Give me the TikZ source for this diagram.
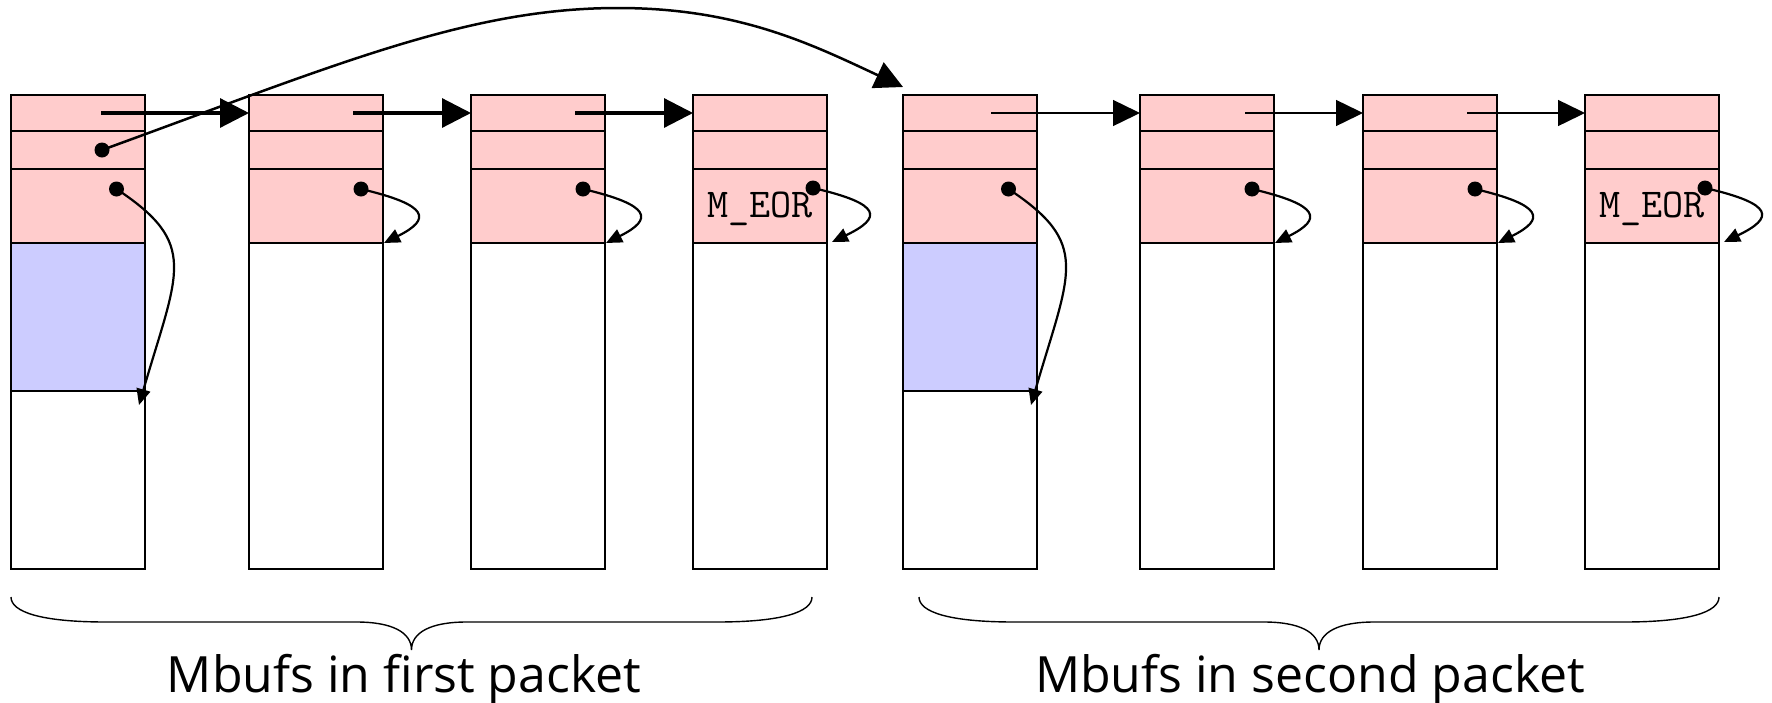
\documentclass[tikz,border=0pt]{standalone}
\usepackage{fontspec}
\newfontfamily\labelfont{Open Sans}
\usetikzlibrary{arrows.meta}
\definecolor{pinkfill}{HTML}{FFCCCC}
\definecolor{bluefill}{HTML}{CCCCFF}
\tikzset{
  boxline/.style={line width=1.6pt},
  nextthick/.style={line width=3.2pt,-{Triangle[length=29pt,width=29pt]}},
  nextthin/.style={line width=1.4pt,-{Triangle[length=27pt,width=26pt]}},
  dataarrow/.style={line width=2.2pt,-{Triangle[length=16pt,width=14pt]}},
  pktarrow/.style={line width=2.5pt,-{Triangle[length=28pt,width=28pt]}},
  bracepath/.style={line width=1.4pt},
  lbl/.style={font=\labelfont\fontsize{50}{50}\selectfont,inner sep=0pt,anchor=base},
  eor/.style={font=\ttfamily\fontsize{41}{41}\selectfont,inner sep=0pt,anchor=base}
}
\begin{document}
\begin{tikzpicture}[x=1pt,y=-1pt]
\useasboundingbox (0,0) rectangle (1772,702);
% fills
\foreach \i/\L in {1/11,2/249,3/471,4/693,5/903,6/1140,7/1363,8/1585}{
  \fill[pinkfill] (\L,95) rectangle ++(134,148);
  \coordinate (in\i) at (\L,113);
}
\foreach \L in {11,903}{
  \fill[bluefill] (\L,243) rectangle ++(134,148);
}
% outlines
\foreach \L in {11,249,471,693,903,1140,1363,1585}{
  \draw[boxline] (\L,95) rectangle ++(134,474);
  \draw[boxline] (\L,131) -- ++(134,0);
  \draw[boxline] (\L,169) -- ++(134,0);
  \draw[boxline] (\L,243) -- ++(134,0);
}
\draw[boxline] (11,391) -- ++(134,0);
\draw[line width=2.8pt] (903,391) -- ++(134,0);
% M_EOR labels
\node[eor] (eor4) at (760,217) {M\_EOR};
\node[eor] (eor8) at (1652,217) {M\_EOR};
% next arrows
\coordinate (n1) at (101,113);
\coordinate (n2) at (353,113);
\coordinate (n3) at (575,113);
\coordinate (n5) at (991,113);
\coordinate (n6) at (1245,113);
\coordinate (n7) at (1467,113);
\draw[nextthick] (n1) -- (in2);
\draw[nextthick] (n2) -- (in3);
\draw[nextthick] (n3) -- (in4);
\draw[nextthin] (n5) -- (in6);
\draw[nextthin] (n6) -- (in7);
\draw[nextthin] (n7) -- (in8);
% packet arrow
\coordinate (p1) at (102,150);
\coordinate (apex) at (618,8);
\coordinate (pend) at (903,87);
\draw[pktarrow] (p1) .. controls +(235,-85.5) and +(-150,0) .. (apex)
  .. controls +(120,0) and +(-92,-43) .. (pend);
\fill (p1) circle (7.5pt);
% long data arrows
\foreach \i/\L in {1/11,5/903}{
  \coordinate (d\i) at (\L+105.5,189);
  \coordinate (e\i) at (\L+128,405);
  \draw[dataarrow] (d\i) .. controls +(83,55) and +(39,-134) .. (e\i);
  \fill (d\i) circle (7.5pt);
}
% short data arrows
\foreach \i/\R in {2/383,3/605,6/1274,7/1497}{
  \coordinate (d\i) at (\R-22,189);
  \coordinate (e\i) at (\R+1,243);
  \draw[dataarrow] (d\i) .. controls +(68,16) and +(48,-24) .. (e\i);
  \fill (d\i) circle (7.5pt);
}
\foreach \i/\R in {4/827,8/1719}{
  \coordinate (d\i) at (\R-14,188);
  \coordinate (e\i) at (\R+5,242);
  \draw[dataarrow] (d\i) .. controls +(70,16) and +(50,-24) .. (e\i);
  \fill (d\i) circle (7.5pt);
}
% braces
\foreach \L/\R in {11/812,919/1719}{
  \pgfmathsetmacro{\T}{(\L+\R)/2}
  \draw[bracepath] (\L,597) .. controls (\L,612) and (\L+30,622) .. (\L+95,622)
    -- (\T-55,622) .. controls (\T-20,622) and (\T,632) .. (\T,650)
    .. controls (\T,632) and (\T+20,622) .. (\T+55,622)
    -- (\R-95,622) .. controls (\R-30,622) and (\R,612) .. (\R,597);
}
\node[lbl] (lab1) at (404,692) {Mbufs in first packet};
\node[lbl] (lab2) at (1310,692) {Mbufs in second packet};
\end{tikzpicture}
\end{document}
